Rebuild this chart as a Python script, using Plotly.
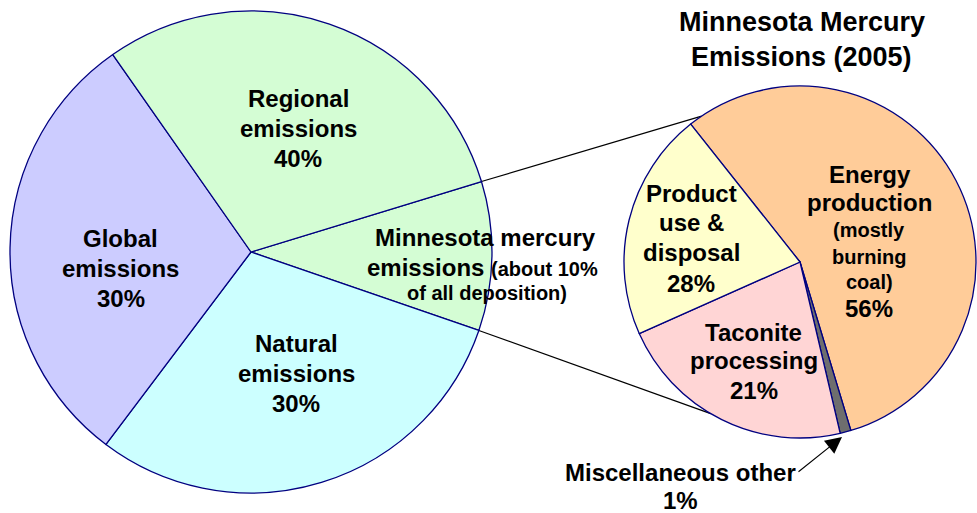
import math
import plotly.graph_objects as go

# ---------------- data ----------------
# Left pie: sources of mercury deposition in Minnesota (slice sizes as drawn)
dep_labels = ["Minnesota mercury emissions", "Natural emissions", "Global emissions", "Regional emissions"]
dep_values = [10, 30, 30, 30]
dep_colors = ["#D4FDD4", "#CCFFFF", "#CCCCFF", "#D4FDD4"]

# Right pie: Minnesota mercury emissions (2005), slice sizes as drawn
mn_labels = ["Energy production", "Miscellaneous other", "Taconite processing", "Product use & disposal"]
mn_values = [56, 1, 22, 21]
mn_colors = ["#FFCC99", "#6E6E6E", "#FFD5D5", "#FFFFCC"]

# label texts (as printed on the chart)
title_lines = ["Minnesota Mercury", "Emissions (2005)"]
regional_lines = ["Regional", "emissions", "40%"]
global_lines = ["Global", "emissions", "30%"]
natural_lines = ["Natural", "emissions", "30%"]
product_lines = ["Product", "use &", "disposal", "28%"]
taconite_lines = ["Taconite", "processing", "21%"]
misc_lines = ["Miscellaneous other", "1%"]

# ---------------- layout geometry (pixels) ----------------
W, H = 977, 513
LC, LR = (251.0, 252.0), 241.0   # left pie centre / radius
RC, RR = (800.0, 262.0), 176.0   # right pie centre / radius
L_ROT = 73.0
R_ROT = -38.4
FONT = "Liberation Sans, Arial, sans-serif"
EDGE = dict(color="#000080", width=1.3)


def px(x, y):
    return x / W, 1 - y / H


def domain(c, r):
    return dict(x=[(c[0] - r) / W, (c[0] + r) / W], y=[1 - (c[1] + r) / H, 1 - (c[1] - r) / H])


fig = go.Figure()
fig.add_trace(go.Pie(values=dep_values, labels=dep_labels, marker=dict(colors=dep_colors, line=EDGE),
                     sort=False, direction="clockwise", rotation=L_ROT, textinfo="none",
                     domain=domain(LC, LR), showlegend=False))
fig.add_trace(go.Pie(values=mn_values, labels=mn_labels, marker=dict(colors=mn_colors, line=EDGE),
                     sort=False, direction="clockwise", rotation=R_ROT, textinfo="none",
                     domain=domain(RC, RR), showlegend=False))

# connector lines from the Minnesota slice to the right pie
tot = sum(dep_values)
a_start = 90 - L_ROT                      # math angle of Minnesota slice start
a_end = a_start - 360 * dep_values[0] / tot


def on_circle(c, r, ang):
    return c[0] + r * math.cos(math.radians(ang)), c[1] - r * math.sin(math.radians(ang))


shapes = []
for a_l, a_r in [(a_start, 124.0), (a_end, 239.5)]:
    x0, y0 = on_circle(LC, LR, a_l)
    x1, y1 = on_circle(RC, RR, a_r)
    X0, Y0 = px(x0, y0)
    X1, Y1 = px(x1, y1)
    shapes.append(dict(type="line", xref="paper", yref="paper", x0=X0, y0=Y0, x1=X1, y1=Y1,
                       line=dict(color="black", width=1.2), layer="below"))

anns = []


def ann(text, x, y, size=24):
    X, Y = px(x, y)
    anns.append(dict(text=text, x=X, y=Y, xref="paper", yref="paper", showarrow=False,
                     xanchor="center", yanchor="middle",
                     font=dict(family=FONT, size=size, color="black", weight="bold")))


def block(lines, x, ys, size=24):
    for t, y in zip(lines, ys):
        ann(t, x, y, size)


block(title_lines, 801.5, [22, 57], 27)
block(regional_lines, 298, [98, 128, 158])
block(global_lines, 120.5, [238, 268, 298])
block(natural_lines, 296, [343, 373, 403])
ann("Minnesota mercury", 485.5, 237)
ann("emissions <span style='font-size:20px'>(about 10%</span>", 482, 267)
ann("of all deposition)", 486.5, 293, 20)
block(product_lines, 691, [193, 223, 252, 283])
block(taconite_lines, 753.5, [332, 360, 390])
ann("Energy", 869.5, 174)
ann("production", 869.5, 203)
block(["(mostly", "burning", "coal)"], 869, [230, 257, 282], 20)
ann("56%", 869, 308)
block(misc_lines, 680, [472, 500])
# arrow to the misc slice
hx, hy = px(842, 437)
anns.append(dict(x=hx, y=hy, ax=797 - 842, ay=473 - 437, xref="paper", yref="paper",
                 showarrow=True, arrowhead=2, arrowsize=3, arrowwidth=1.1, arrowcolor="black", text=""))

fig.update_layout(width=W, height=H, margin=dict(l=0, r=0, t=0, b=0), paper_bgcolor="white",
                  plot_bgcolor="white", shapes=shapes, annotations=anns, showlegend=False,
                  font=dict(family=FONT))

fig.write_html("out.html", config={"displayModeBar": False},
               post_script="document.body.style.margin='0';document.body.style.overflow='hidden';")
